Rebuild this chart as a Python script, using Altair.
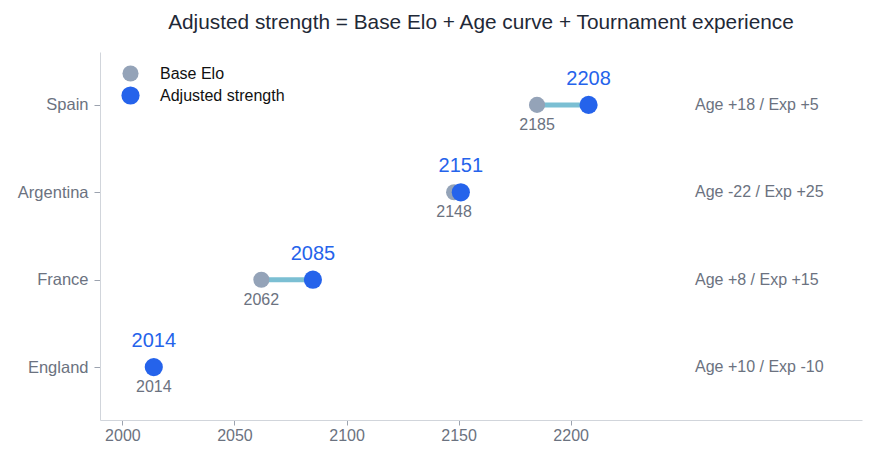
import altair as alt
import pandas as pd

teams = ["Spain", "Argentina", "France", "England"]
base_elo = [2185, 2148, 2062, 2014]
age_adj = [18, -22, 8, 10]
exp_adj = [5, 25, 15, -10]
adjusted = [2208, 2151, 2085, 2014]
x_ticks = [2000, 2050, 2100, 2150, 2200]

FONT = "Liberation Sans"

wide = pd.DataFrame({
    "team": teams,
    "base": base_elo,
    "adjusted": adjusted,
    "note": [f"Age {a:+d} / Exp {e:+d}" for a, e in zip(age_adj, exp_adj)],
})

long = pd.concat([
    pd.DataFrame({"team": teams, "value": base_elo, "kind": "Base Elo", "ord": 0}),
    pd.DataFrame({"team": teams, "value": adjusted, "kind": "Adjusted strength", "ord": 1}),
])

xscale = alt.Scale(domain=[1990, 2330], nice=False, zero=False)
yscale = alt.Scale(domain=teams, type="point", padding=0.605)

y_enc = alt.Y("team:N", scale=yscale, sort=teams,
              axis=alt.Axis(title=None, labelColor="#6b7280", labelFontSize=16.5,
                            labelFont=FONT, domainColor="#d1d5db", tickColor="#9ca3af",
                            tickSize=6, labelPadding=6, grid=False))

base_chart = alt.Chart(wide)

rule = base_chart.mark_rule(color="#7bbfd3", strokeWidth=5).encode(
    x=alt.X("base:Q", scale=xscale,
            axis=alt.Axis(title=None, values=x_ticks, labelColor="#6b7280", labelFontSize=16,
                          labelFont=FONT, domainColor="#d1d5db", tickColor="#9ca3af",
                          tickSize=5, grid=False, format="d")),
    x2="adjusted:Q",
    y=y_enc,
)

points = alt.Chart(long).mark_circle(opacity=1).encode(
    x=alt.X("value:Q", scale=xscale),
    y=alt.Y("team:N", scale=yscale, sort=teams),
    color=alt.Color("kind:N",
                    scale=alt.Scale(domain=["Base Elo", "Adjusted strength"],
                                    range=["#94a3b8", "#2563eb"]),
                    legend=alt.Legend(title=None, orient="none", legendX=21, legendY=13,
                                      labelFontSize=16, labelFont=FONT, labelColor="#111111",
                                      symbolSize=320, symbolStrokeWidth=0, labelOffset=20,
                                      rowPadding=4)),
    size=alt.Size("kind:N", scale=alt.Scale(domain=["Base Elo", "Adjusted strength"],
                                            range=[260, 330]), legend=None),
    order=alt.Order("ord:Q"),
)

adj_labels = base_chart.mark_text(dy=-26, fontSize=20, font=FONT, color="#2563eb").encode(
    x=alt.X("adjusted:Q", scale=xscale),
    y=alt.Y("team:N", scale=yscale, sort=teams),
    text=alt.Text("adjusted:Q", format="d"),
)

base_labels = base_chart.mark_text(dy=20, fontSize=16, font=FONT, color="#6b7280").encode(
    x=alt.X("base:Q", scale=xscale),
    y=alt.Y("team:N", scale=yscale, sort=teams),
    text=alt.Text("base:Q", format="d"),
)

notes = base_chart.mark_text(align="left", fontSize=16, font=FONT, color="#6b7280").encode(
    x=alt.value(595),
    y=alt.Y("team:N", scale=yscale, sort=teams),
    text="note:N",
)

chart = alt.layer(rule, points, adj_labels, base_labels, notes).properties(
    width=762, height=368,
    title=alt.Title("Adjusted strength = Base Elo + Age curve + Tournament experience",
                    fontSize=20.8, font=FONT, fontWeight="normal", color="#1f2937",
                    anchor="middle", offset=18),
    autosize=alt.AutoSizeParams(type="none"),
    padding={"left": 100, "top": 52, "right": 18, "bottom": 42},
    background="white",
).configure_view(stroke=None)

chart.save("out.html", embed_options={"renderer": "svg", "actions": False})
